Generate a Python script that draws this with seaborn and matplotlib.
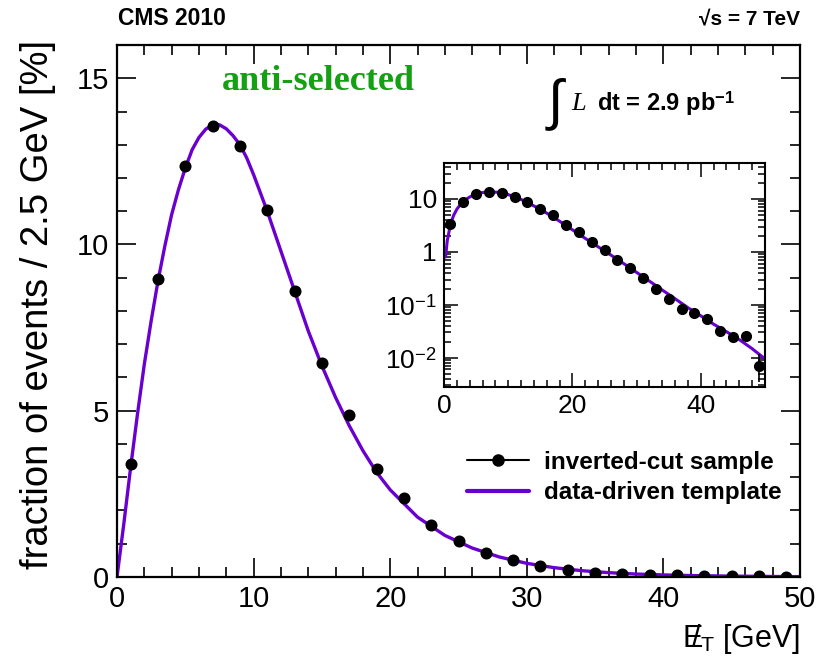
"""Missing ET template vs inverted-cut sample (CMS 2010 style)."""
import numpy as np
import pandas as pd
import seaborn as sns
from matplotlib import pyplot as plt
from matplotlib.ticker import MultipleLocator, FixedLocator, FixedFormatter, LogLocator, NullFormatter
from matplotlib.lines import Line2D

# data points (bin centres, percent)
met = [1, 3, 5, 7, 9, 11, 13, 15, 17, 19, 21, 23, 25, 27, 29, 31, 33, 35, 37, 39, 41, 43, 45, 47, 49]
frac = [3.4, 8.95, 12.35, 13.55, 12.97, 11.05, 8.6, 6.45, 4.88, 3.25, 2.37, 1.56, 1.09, 0.71, 0.5,
        0.316, 0.2, 0.128, 0.085, 0.069, 0.055, 0.0316, 0.0245, 0.026, 0.0071]
err_lo = [0, 0, 0, 0, 0, 0, 0, 0, 0, 0, 0, 0, 0, 0, 0,
          0, 0, 0, 0, 0, 0.004, 0.005, 0.005, 0.005, 0.0036]
err_hi = [0, 0, 0, 0, 0, 0, 0, 0, 0, 0, 0, 0, 0, 0, 0,
          0, 0, 0, 0, 0, 0.004, 0.005, 0.006, 0.006, 0.0045]

# template curve
tmpl_x = [0, 0.25, 0.5, 1, 1.5, 2, 2.5, 3, 3.5, 4, 4.5, 5, 5.5, 6, 6.5, 7, 7.5, 8, 8.5, 9, 9.5, 10,
          11, 12, 13, 14, 15, 16, 17, 18, 19, 20,
          22, 24, 26, 28, 30, 32, 34, 36, 38, 40, 42, 44, 46, 48, 50]
tmpl_y = [0, 0.8, 1.6, 3.3, 4.9, 6.4, 7.7, 8.9, 9.95, 10.9, 11.65, 12.3, 12.85, 13.22, 13.47, 13.6,
          13.6, 13.48, 13.27, 13.0, 12.6, 12.1, 11.0, 9.8,
          8.6, 7.4, 6.35, 5.4, 4.55, 3.8, 3.15, 2.62, 1.8, 1.25, 0.87, 0.6, 0.41, 0.28, 0.19, 0.13,
          0.088, 0.062, 0.043, 0.031, 0.022, 0.0148, 0.0095]

pts = pd.DataFrame({'met': met, 'frac': frac})
curve = pd.DataFrame({'met': tmpl_x, 'frac': tmpl_y})

sns.set_style('ticks')
plt.rcParams['font.family'] = ['Liberation Sans', 'DejaVu Sans']
plt.rcParams['mathtext.fontset'] = 'custom'
plt.rcParams['mathtext.rm'] = 'Liberation Sans'
plt.rcParams['mathtext.it'] = 'Liberation Serif:italic'
plt.rcParams['mathtext.bf'] = 'Liberation Sans:bold'
for key in ['text.color', 'axes.labelcolor', 'xtick.color', 'ytick.color', 'axes.edgecolor']:
    plt.rcParams[key] = 'black'

purple = '#6a00d0'

fig = plt.figure(figsize=(8.21, 6.57), dpi=100)
ax = fig.add_axes([0.1425, 0.1218, 0.832, 0.8097])

sns.lineplot(data=curve, x='met', y='frac', ax=ax, color=purple, lw=2.4, zorder=2)
sns.scatterplot(data=pts, x='met', y='frac', ax=ax, color='black', s=75, edgecolor='black',
                linewidth=0, zorder=3)
ax.set_xlim(0, 50)
ax.set_ylim(0, 16)
ax.xaxis.set_major_locator(MultipleLocator(10))
ax.xaxis.set_minor_locator(MultipleLocator(2))
ax.yaxis.set_major_locator(MultipleLocator(5))
ax.yaxis.set_minor_locator(MultipleLocator(1))
ax.tick_params(which='both', direction='in', top=True, right=True, width=1.2, labelsize=21, pad=6)
ax.tick_params(which='major', length=14)
ax.tick_params(which='minor', length=7)
for s in ax.spines.values():
    s.set_linewidth(1.6)
ax.set_xlabel(r'$\mathrm{E}\!\!\!/_{\mathrm{T}}$ [GeV]', fontsize=22, ha='right', x=1.0)
ax.set_ylabel('fraction of events / 2.5 GeV [%]', fontsize=27.5, ha='right', y=1.0)
ax.yaxis.set_label_coords(-0.09, 1.01)
ax.xaxis.set_label_coords(1.0, -0.085)

fig.text(0.144, 0.955, 'CMS 2010', fontsize=16.5, fontweight='bold', va='bottom')
fig.text(0.974, 0.955, '\u221as = 7 TeV', fontsize=15, fontweight='bold', ha='right', va='bottom')
ax.text(0.154, 0.932, 'anti-selected', transform=ax.transAxes, fontsize=26, fontweight='bold',
        color='#13a013', family='Liberation Serif', va='center')
ax.text(0.627, 0.888, r'$\int$', transform=ax.transAxes, fontsize=40, va='center')
ax.text(0.665, 0.889, 'L', transform=ax.transAxes, fontsize=19, style='italic',
        family='Liberation Serif', va='center')
ax.text(0.702, 0.889, r'dt = 2.9 pb$^{\mathbf{-1}}$', transform=ax.transAxes, fontsize=17,
        fontweight='bold', va='center')

handles = [Line2D([], [], color='black', marker='o', markersize=8, lw=1.5),
           Line2D([], [], color=purple, lw=3)]
ax.legend(handles, ['inverted-cut sample', 'data-driven template'], loc='lower right',
          bbox_to_anchor=(1.005, 0.096), frameon=False, prop={'weight': 'bold', 'size': 17.5},
          handlelength=2.55, labelspacing=0.3, handletextpad=0.6)

# inset, log scale
ins = fig.add_axes([0.5408, 0.411, 0.391, 0.341])
sns.lineplot(data=curve[curve.frac > 0], x='met', y='frac', ax=ins, color=purple, lw=2.2, zorder=2)
ins.errorbar(met, frac, yerr=[err_lo, err_hi], fmt='o', color='black', ms=7, elinewidth=1.2,
             capsize=0, zorder=3)
ins.set_yscale('log')
ins.set_xlim(0, 50)
ins.set_ylim(0.0028, 48)
ins.xaxis.set_major_locator(MultipleLocator(20))
ins.xaxis.set_minor_locator(MultipleLocator(2))
ins.yaxis.set_major_locator(FixedLocator([0.01, 0.1, 1, 10]))
ins.yaxis.set_major_formatter(FixedFormatter([r'$10^{-2}$', r'$10^{-1}$', '1', '10']))
ins.yaxis.set_minor_locator(LogLocator(base=10, subs=np.arange(2, 10)))
ins.yaxis.set_minor_formatter(NullFormatter())
ins.tick_params(which='both', direction='in', top=True, right=True, width=1.1, labelsize=19, pad=5)
ins.tick_params(which='major', length=10)
ins.tick_params(which='minor', length=5)
for s in ins.spines.values():
    s.set_linewidth(1.5)
ins.set_xlabel('')
ins.set_ylabel('')

plt.savefig('out.png', dpi=100)
